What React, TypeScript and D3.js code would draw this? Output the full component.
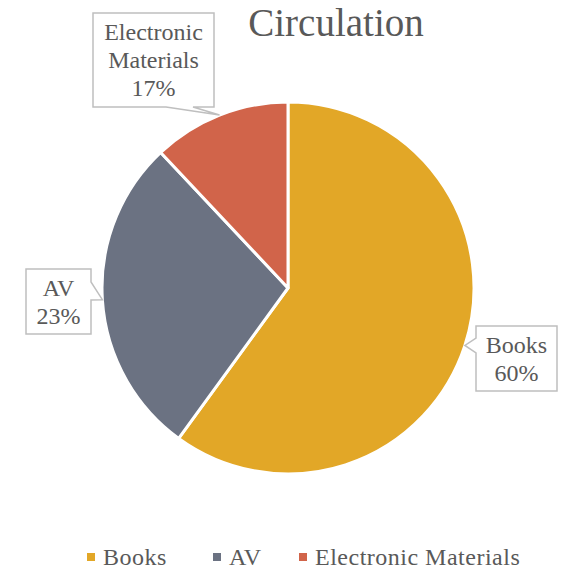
import React from 'react';
import * as d3 from 'd3';

const width = 565;
const height = 571;
const cx = 288;
const cy = 288;
const radius = 186;

// slice sizes; label texts as printed on the chart
const categories = ['Books', 'AV', 'Electronic Materials'];
const values = [60, 28, 12];
const labelLines = [['Books', '60%'], ['AV', '23%'], ['Electronic', 'Materials', '17%']];
const colors = ['#E2A727', '#6B7282', '#D1644A'];

// callout boxes: x, y, w, h, and which side the pointer leaves from
const boxes = [
  { x: 476, y: 326, w: 81, h: 65, side: 'left' },
  { x: 26, y: 269, w: 65, h: 65, side: 'right' },
  { x: 93, y: 13, w: 121, h: 94, side: 'bottom' },
];

const font = '"Liberation Serif", "DejaVu Serif", serif';
const textColor = '#595959';

function calloutPath(b: any, tip: [number, number]) {
  const { x, y, w, h, side } = b;
  const [tx, ty] = tip;
  if (side === 'left') {
    return `M${x},${y} H${x + w} V${y + h} H${x} V${y + 27} L${tx},${ty} L${x},${y + 12} Z`;
  }
  if (side === 'right') {
    return `M${x},${y} H${x + w} V${y + 13} L${tx},${ty} L${x + w},${y + 31} V${y + h} H${x} Z`;
  }
  return `M${x},${y} H${x + w} V${y + h} H${x + 100} L${tx},${ty} L${x + 73},${y + h} H${x} Z`;
}

export default function App() {
  const pie = d3.pie<number>().sort(null).value(d => d).startAngle(0);
  const arcs = pie(values);
  const arc = d3.arc<any>().innerRadius(0).outerRadius(radius);

  const legendX = [87, 213, 299];

  return (
    <svg width={width} height={height} style={{ position: 'absolute', left: 0, top: 0 }}>
      <rect width={width} height={height} fill="#fff" />
      <text x={336} y={36} textAnchor="middle" fontFamily={font} fontSize={39} fill={textColor}>
        Circulation
      </text>
      <g transform={`translate(${cx},${cy})`}>
        {arcs.map((a, i) => (
          <path key={i} d={arc(a) as string} fill={colors[i]} stroke="#fff" strokeWidth={3} strokeLinejoin="round" />
        ))}
      </g>
      {arcs.map((a, i) => {
        const mid = (a.startAngle + a.endAngle) / 2;
        const tip: [number, number] = [cx + radius * Math.sin(mid), cy - radius * Math.cos(mid)];
        const b = boxes[i];
        const lines = labelLines[i];
        const mx = b.x + b.w / 2;
        const startY = b.y + b.h / 2 - ((lines.length - 1) * 28) / 2 + 8;
        return (
          <g key={i}>
            <path d={calloutPath(b, tip)} fill="#fff" stroke="#BFBFBF" strokeWidth={1.5} />
            {lines.map((l, j) => (
              <text key={j} x={mx} y={startY + j * 28} textAnchor="middle" fontFamily={font} fontSize={24} fill={textColor}>
                {l}
              </text>
            ))}
          </g>
        );
      })}
      {categories.map((c, i) => (
        <g key={c}>
          <rect x={legendX[i]} y={553} width={8} height={8} fill={colors[i]} />
          <text x={legendX[i] + 16} y={565} fontFamily={font} fontSize={24} letterSpacing={0.5} fill={textColor}>
            {c}
          </text>
        </g>
      ))}
    </svg>
  );
}
